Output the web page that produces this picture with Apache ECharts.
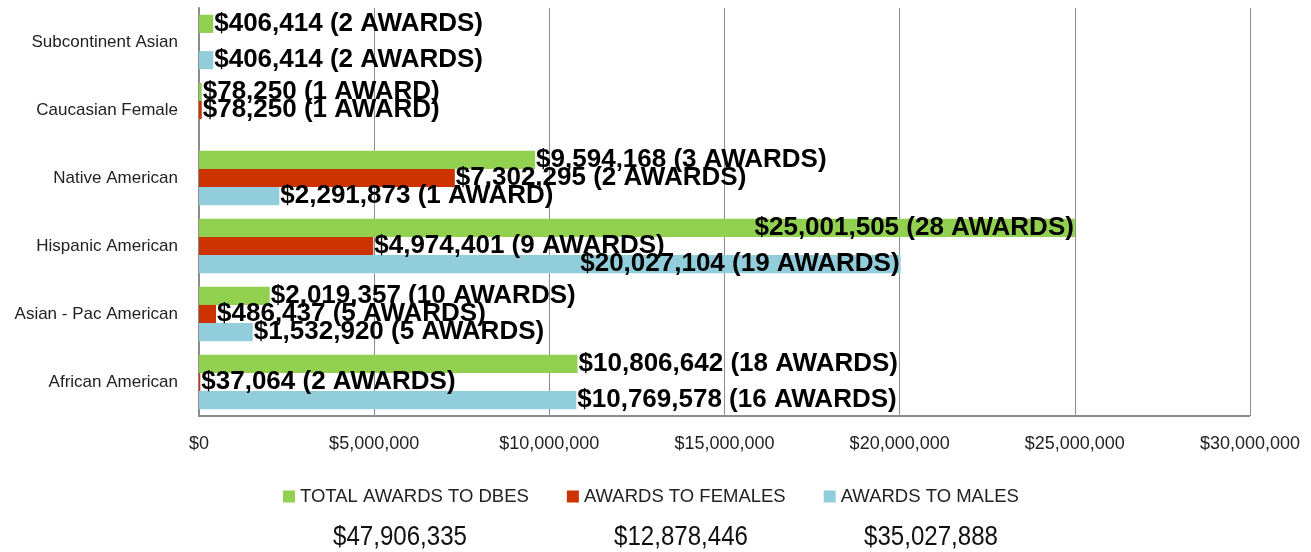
<!DOCTYPE html>
<html>
<head>
<meta charset="utf-8">
<script src="https://cdn.jsdelivr.net/npm/echarts@6/dist/echarts.min.js"></script>
<style>
  html, body { margin: 0; padding: 0; background: #fff; }
  #chart { width: 1311px; height: 552px; }
</style>
</head>
<body>
<div id="chart"></div>
<script>
// categories, bottom to top
var categories = ['African American', 'Asian - Pac American', 'Hispanic American', 'Native American', 'Caucasian Female', 'Subcontinent Asian']

var totalValues = [10806642, 2019357, 25001505, 9594168, 78250, 406414]
var totalAwards = [18, 10, 28, 3, 1, 2]
var femaleValues = [37064, 486437, 4974401, 7302295, 78250, 0]
var femaleAwards = [2, 5, 9, 2, 1, 0]
var maleValues = [10769578, 1532920, 20027104, 2291873, 0, 406414]
var maleAwards = [16, 5, 19, 1, 0, 2]

var seriesNames = ['TOTAL AWARDS TO DBES', 'AWARDS TO FEMALES', 'AWARDS TO MALES']
var grandTotals = ['$47,906,335', '$12,878,446', '$35,027,888']

var xTicks = [0, 5000000, 10000000, 15000000, 20000000, 25000000, 30000000]

var colors = ['#92D050', '#CC3300', '#92CDDC']
var font = "'Liberation Sans', Arial, sans-serif"

function money(v) {
  return '$' + v.toLocaleString('en-US')
}

function labelText(values, awards) {
  return function(p) {
    var v = values[p.dataIndex]
    if (!v) return ''
    var n = awards[p.dataIndex]
    return money(v) + ' (' + n + (n === 1 ? ' AWARD)' : ' AWARDS)')
  }
}

function makeSeries(idx, values, awards) {
  return {
    name: seriesNames[idx],
    type: 'bar',
    barGap: '0%',
    barCategoryGap: '20%',
    itemStyle: { color: colors[idx] },
    label: {
      show: true,
      position: 'right',
      distance: 1,
      offset: [0, 2],
      color: '#000',
      fontFamily: font,
      fontWeight: 'bold',
      fontSize: 26,
      formatter: labelText(values, awards)
    },
    labelLayout: function(p) {
      // long labels near the right edge are pulled back inside the bar end
      if (p.rect.x + p.rect.width + p.labelRect.width > 1200) {
        return { dx: -(p.labelRect.width + 2) }
      }
    },
    data: values
  }
}

var chart = echarts.init(document.getElementById('chart'))

chart.setOption({
  animation: false,
  backgroundColor: '#fff',
  grid: {
    left: 199,
    right: 61,
    top: 8,
    bottom: 136
  },
  legend: {
    data: seriesNames,
    left: 278,
    top: 482,
    itemWidth: 12,
    itemHeight: 12,
    itemGap: 38,
    icon: 'rect',
    textStyle: { fontFamily: font, fontSize: 18.5, color: '#222' }
  },
  xAxis: {
    type: 'value',
    min: 0,
    max: 30000000,
    interval: 5000000,
    axisLine: { show: false },
    axisTick: { show: false },
    splitLine: { lineStyle: { color: '#8c8c8c', width: 1 } },
    axisLabel: {
      margin: 19,
      fontFamily: font,
      fontSize: 18,
      color: '#222',
      formatter: function(v) {
        return xTicks.indexOf(v) >= 0 ? money(v) : ''
      }
    }
  },
  yAxis: {
    type: 'category',
    data: categories,
    axisLine: { show: true, lineStyle: { color: '#8c8c8c', width: 2 } },
    axisTick: { show: false },
    axisLabel: {
      margin: 21,
      fontFamily: font,
      fontSize: 17,
      color: '#222'
    }
  },
  graphic: [
    {
      type: 'line',
      z: 10,
      shape: { x1: 198, y1: 416, x2: 1250, y2: 416 },
      style: { stroke: '#8c8c8c', lineWidth: 2 }
    }
  ].concat(grandTotals.map(function(t, i) {
    return {
      type: 'text',
      x: [400, 681, 931][i],
      y: 537,
      scaleX: 0.86,
      style: {
        text: t,
        fontFamily: font,
        fontSize: 28,
        fill: '#111',
        align: 'center',
        verticalAlign: 'middle'
      }
    }
  })),
  series: [
    makeSeries(0, totalValues, totalAwards),
    makeSeries(1, femaleValues, femaleAwards),
    makeSeries(2, maleValues, maleAwards)
  ]
})
</script>
</body>
</html>
